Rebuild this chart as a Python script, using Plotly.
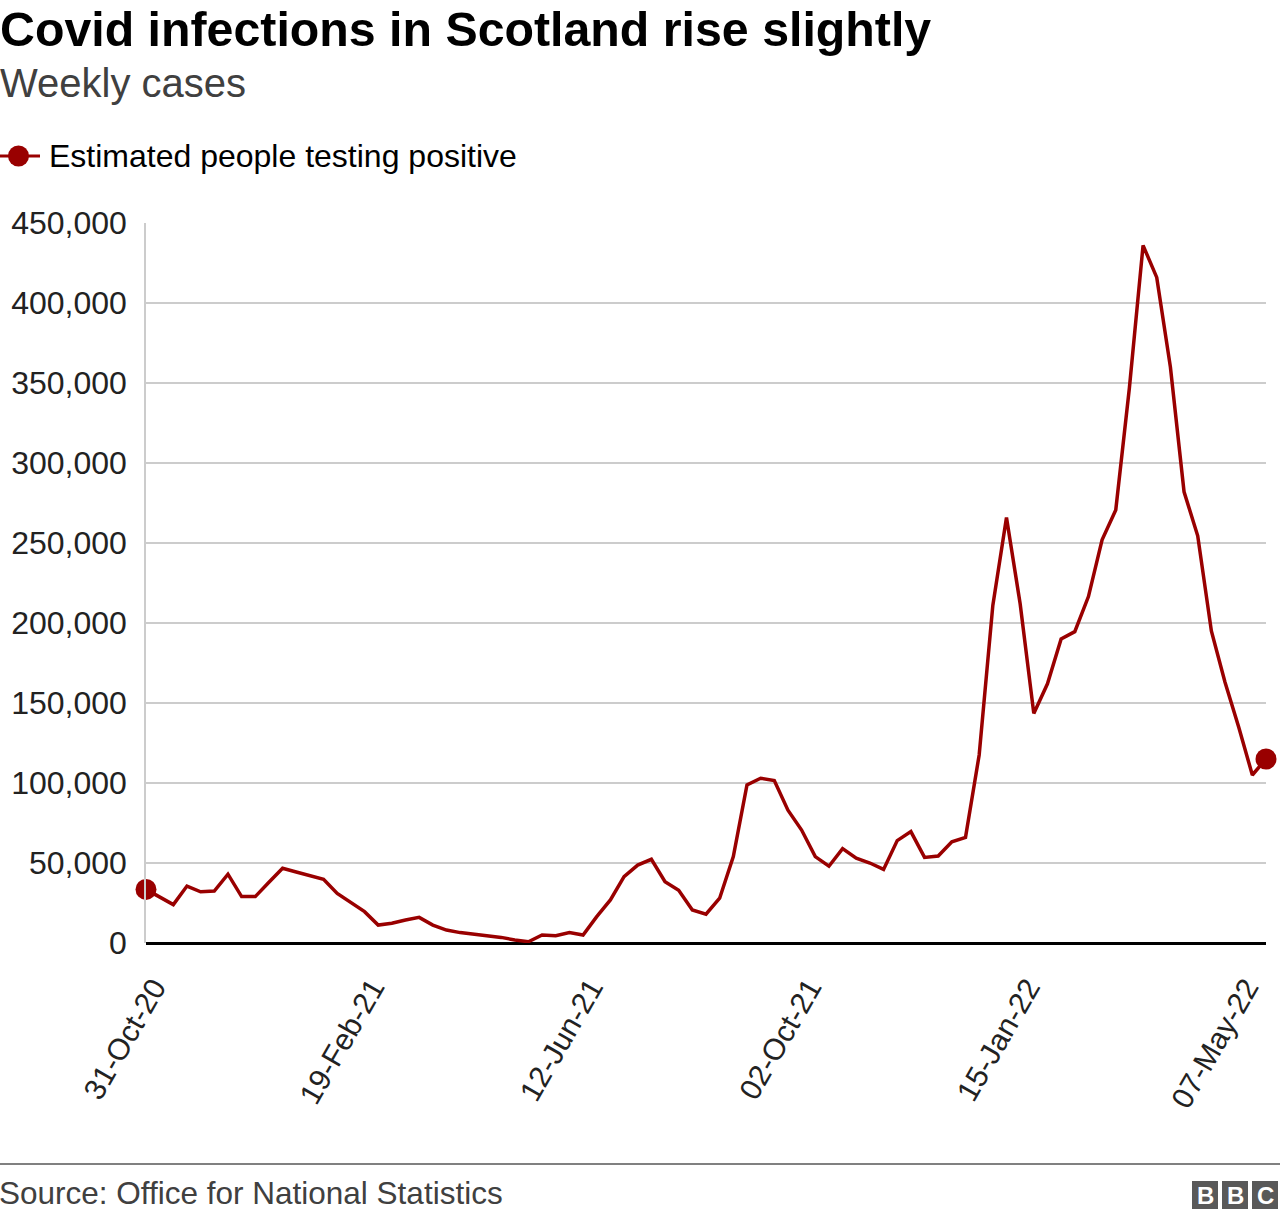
import plotly.graph_objects as go

# ---- data (thousands of estimated people testing positive, per week index) ----
week_index = list(range(83))
positives_k = [
    33.5, 28.5, 24.0, 35.6, 32.0, 32.5, 43.0, 29.0, 29.0, 38.0,
    46.7, 44.4, 42.0, 39.8, 31.0, 25.2, 19.6, 11.2, 12.3, 14.4,
    16.0, 11.2, 8.1, 6.5, 5.5, 4.5, 3.5, 1.9, 0.8, 5.0,
    4.6, 6.5, 5.0, 16.5, 26.9, 41.5, 48.7, 52.3, 38.3, 33.0,
    20.6, 18.0, 28.0, 54.0, 98.8, 103.0, 101.5, 83.0, 70.6, 54.0,
    48.0, 59.0, 53.0, 50.0, 46.0, 64.0, 69.6, 53.5, 54.4, 63.3,
    66.0, 117.5, 211.0, 266.0, 212.0, 143.5, 162.0, 190.0, 194.6, 216.5,
    252.0, 270.6, 347.0, 436.0, 416.0, 360.0, 282.0, 254.5, 195.0, 163.0,
    135.0, 105.0, 115.0,
]
values = [v * 1000 for v in positives_k]
tick_positions = [0, 16, 32, 48, 64, 80]
tick_labels = ["31-Oct-20", "19-Feb-21", "12-Jun-21", "02-Oct-21", "15-Jan-22", "07-May-22"]
y_ticks = list(range(0, 450001, 50000))
series_name = "Estimated people testing positive"

# ---- layout geometry (pixels) ----
W, H = 1280, 1220
L, R, T, B = 146, 14, 223, 277
PW, PH = W - L - R, H - T - B
BASE_Y = H - B
X_MAX = week_index[-1]
LABEL_SHIFT = 8 * X_MAX / PW  # nudge rotated labels right by ~8 px


def px(x):
    return (x - L) / PW


def py(y):
    return (BASE_Y - y) / PH


RED = "#990000"
FONT = "Liberation Sans, Arial, Helvetica, sans-serif"

fig = go.Figure()
fig.add_trace(go.Scatter(
    x=week_index, y=values, mode="lines",
    line=dict(color=RED, width=3.5), name=series_name,
    showlegend=False, hoverinfo="skip", cliponaxis=False,
))
fig.add_trace(go.Scatter(
    x=[week_index[0], week_index[-1]], y=[values[0], values[-1]], mode="markers",
    marker=dict(color=RED, size=21), showlegend=False, cliponaxis=False,
))

annotations = [
    dict(text="<b>Covid infections in Scotland rise slightly</b>", x=px(-2), y=py(29),
         xanchor="left", yanchor="middle", font=dict(size=48.3, color="#000000")),
    dict(text="Weekly cases", x=px(-2), y=py(83), xanchor="left", yanchor="middle",
         font=dict(size=40, color="#404040")),
    dict(text=series_name, x=px(47), y=py(156), xanchor="left", yanchor="middle",
         font=dict(size=32, color="#000000")),
    dict(text="Source: Office for National Statistics", x=px(-3), y=py(1193),
         xanchor="left", yanchor="middle", font=dict(size=31.5, color="#404040")),
]
for i, letter in enumerate("BBC"):
    cx = 1205 + i * 30
    annotations.append(dict(text="<b>%s</b>" % letter, x=px(cx), y=py(1195),
                            xanchor="center", yanchor="middle",
                            font=dict(size=24, color="#ffffff")))
for a in annotations:
    a.update(xref="paper", yref="paper", showarrow=False, align="left")
    a["font"]["family"] = FONT

shapes = [
    dict(type="line", x0=px(0), x1=px(40), y0=py(156), y1=py(156),
         line=dict(color=RED, width=3)),
    dict(type="circle", x0=px(8), x1=px(29), y0=py(145.5), y1=py(166.5),
         fillcolor=RED, line=dict(color=RED, width=0)),
    dict(type="line", x0=px(0), x1=px(1280), y0=py(1164), y1=py(1164),
         line=dict(color="#808080", width=2)),
]
for i in range(3):
    x0 = 1192 + i * 30
    shapes.append(dict(type="rect", x0=px(x0), x1=px(x0 + 26), y0=py(1181), y1=py(1209),
                       fillcolor="#595959", line=dict(width=0)))
for s in shapes:
    s.update(xref="paper", yref="paper")

fig.update_layout(
    width=W, height=H,
    margin=dict(l=L, r=R, t=T, b=B, pad=0),
    paper_bgcolor="white", plot_bgcolor="white",
    font=dict(family=FONT, color="#222222"),
    showlegend=False,
    annotations=annotations, shapes=shapes,
    xaxis=dict(
        range=[0, X_MAX], tickmode="array",
        tickvals=[t + LABEL_SHIFT for t in tick_positions], ticktext=tick_labels,
        tickangle=-60, showgrid=False, zeroline=False, showline=False,
        ticks="", tickfont=dict(size=30, color="#222222"), ticklabelstandoff=20,
    ),
    yaxis=dict(
        range=[0, 450000], tickmode="array", tickvals=y_ticks, tickformat=",",
        showgrid=True, gridcolor="#cccccc", gridwidth=1.6,
        zeroline=True, zerolinecolor="#000000", zerolinewidth=3,
        showline=True, linecolor="#cccccc", linewidth=1.6,
        ticks="", tickfont=dict(size=32, color="#222222"), ticklabelstandoff=11,
    ),
)

fig.write_html("out.html", config={"displayModeBar": False},
               post_script="document.body.style.margin='0px';")
